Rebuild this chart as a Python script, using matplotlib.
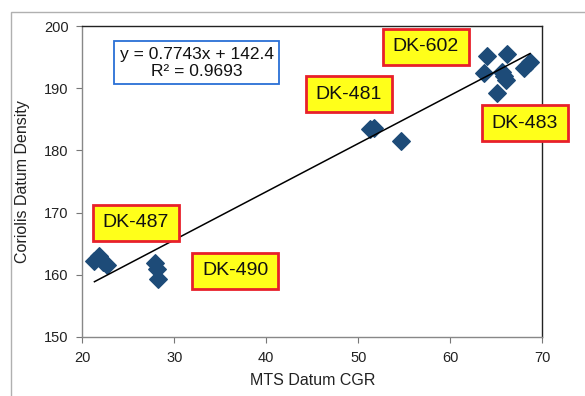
import matplotlib.pyplot as plt
import numpy as np
from matplotlib.patches import Rectangle

plt.rcParams["font.family"] = ["Liberation Sans", "DejaVu Sans"]

# MTS CGR vs Coriolis density, one entry per sample
cgr = [21.3, 21.8, 22.2, 22.7,
       27.9, 28.1, 28.2,
       51.3, 51.7, 54.7,
       64.0, 66.2, 63.7, 65.7, 66.1, 65.1, 65.9, 68.0, 68.7]
density = [162.3, 163.0, 162.0, 161.5,
           161.9, 160.9, 159.4,
           183.4, 183.6, 181.5,
           195.2, 195.5, 192.4, 192.7, 191.3, 189.3, 192.0, 193.2, 194.2]

slope = 0.7743
intercept = 142.4
r_squared = 0.9693

well_names = ["DK-602", "DK-481", "DK-483", "DK-487", "DK-490"]
# label box centres in axes fractions
label_pos = [(0.747, 0.933), (0.580, 0.781), (0.963, 0.688),
             (0.116, 0.367), (0.332, 0.213)]

x_ticks = [20, 30, 40, 50, 60, 70]
y_ticks = [150, 160, 170, 180, 190, 200]

fig = plt.figure(figsize=(5.85, 3.96), dpi=100)
ax = fig.add_axes([0.141, 0.149, 0.7855, 0.785])

# thin frame around the chart area
fig.patches.append(Rectangle((11 / 585, -0.1), 1.2, 1 - 12 / 396 + 0.1,
                             transform=fig.transFigure, fill=False,
                             edgecolor="#b0b0b0", linewidth=1.0))

ax.scatter(cgr, density, marker="D", s=80, color="#1d4b78",
           edgecolors="#1d4b78", zorder=3)

x_fit = np.array([min(cgr), max(cgr)])
ax.plot(x_fit, slope * x_fit + intercept, color="black", linewidth=1.1,
        zorder=4)

ax.set_xlim(20, 70)
ax.set_ylim(150, 200)
ax.set_xticks(x_ticks)
ax.set_yticks(y_ticks)
ax.tick_params(labelsize=10.5, length=4, width=0.8, color="#777777",
               labelcolor="#222222", pad=6)
for side in ["left", "bottom"]:
    ax.spines[side].set_color("#888888")
for side in ["top", "right"]:
    ax.spines[side].set_color("#222222")
for sp in ax.spines.values():
    sp.set_linewidth(1.0)

ax.set_xlabel("MTS Datum CGR", fontsize=11.5, color="#222222", labelpad=6)
ax.set_ylabel("Coriolis Datum Density", fontsize=11.5, color="#222222",
              labelpad=10)

eq_text = f"y = {slope}x + {intercept}\nR\u00b2 = {r_squared}"
ax.text(0.2485, 0.882, eq_text, transform=ax.transAxes, ha="center",
        va="center", fontsize=12.5, color="#111111", zorder=6,
        bbox=dict(boxstyle="square,pad=0.3", facecolor="white",
                  edgecolor="#2a6fd6", linewidth=1.3))

for name, (fx, fy) in zip(well_names, label_pos):
    ax.text(fx, fy, name, transform=ax.transAxes, ha="center", va="center",
            fontsize=14, color="#111111", zorder=7, clip_on=False,
            bbox=dict(boxstyle="square,pad=0.5", facecolor="#ffff1a",
                      edgecolor="#e8202a", linewidth=2.0))

fig.savefig("out.png", dpi=100)
